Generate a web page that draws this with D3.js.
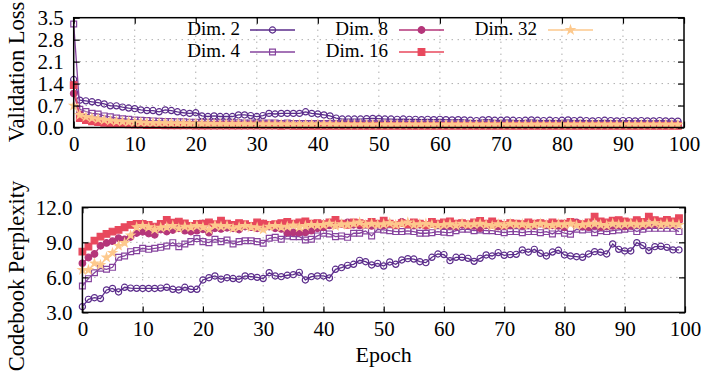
<!DOCTYPE html>
<html>
<head>
<meta charset="utf-8">
<script src="https://cdn.jsdelivr.net/npm/d3@7"></script>
<style>
body { margin: 0; background: #fff; }
svg { display: block; font-family: "Liberation Serif", serif; }
.grid line { stroke: #888; stroke-width: 1; stroke-dasharray: 1,5; }
.axis path { display: none; }
.axis line { stroke: #000; stroke-width: 1.2; }
.axis text { font-family: "Liberation Serif", serif; font-size: 21px; fill: #000; }
</style>
</head>
<body>
<svg class="chart"></svg>
<script>
var W = 701, H = 371;

var seriesNames = ["Dim. 2", "Dim. 4", "Dim. 8", "Dim. 16", "Dim. 32"];
var colors = ["#5b2c8b", "#86449e", "#b5367a", "#e8485d", "#fdc98d"];
var epochs = d3.range(100);

var lossTicks = [0.0, 0.7, 1.4, 2.1, 2.8, 3.5];
var perpTicks = [3.0, 6.0, 9.0, 12.0];
var epochTicks = [0, 10, 20, 30, 40, 50, 60, 70, 80, 90, 100];

// validation loss
var loss2 = [1.53,0.87,0.85,0.82,0.79,0.75,0.69,0.69,0.65,0.62,0.60,0.56,0.54,0.54,0.50,0.56,0.54,0.50,0.47,0.45,
	0.47,0.37,0.35,0.37,0.35,0.35,0.35,0.40,0.40,0.38,0.35,0.38,0.45,0.43,0.45,0.45,0.45,0.45,0.50,0.45,
	0.43,0.40,0.37,0.30,0.27,0.27,0.27,0.27,0.28,0.29,0.28,0.27,0.27,0.26,0.27,0.26,0.26,0.25,0.26,0.25,
	0.26,0.25,0.24,0.25,0.24,0.23,0.22,0.24,0.25,0.23,0.23,0.24,0.23,0.22,0.23,0.24,0.23,0.22,0.23,0.22,
	0.23,0.24,0.22,0.23,0.22,0.21,0.22,0.23,0.22,0.21,0.22,0.22,0.21,0.22,0.21,0.21,0.22,0.21,0.20,0.20];
var loss4 = [3.30,0.58,0.51,0.45,0.43,0.37,0.34,0.30,0.28,0.26,0.24,0.23,0.22,0.21,0.20,0.19,0.19,0.18,0.18,0.17,
	0.17,0.16,0.16,0.16,0.15,0.15,0.15,0.15,0.14,0.14,0.14,0.14,0.14,0.14,0.13,0.14,0.13,0.13,0.13,0.13,
	0.13,0.13,0.13,0.12,0.13,0.12,0.12,0.12,0.12,0.12,0.12,0.12,0.11,0.12,0.12,0.11,0.12,0.11,0.11,0.11,
	0.11,0.11,0.11,0.11,0.11,0.11,0.11,0.10,0.11,0.11,0.10,0.11,0.10,0.10,0.11,0.10,0.10,0.10,0.10,0.10,
	0.10,0.10,0.10,0.10,0.10,0.10,0.10,0.10,0.10,0.10,0.10,0.10,0.10,0.10,0.10,0.10,0.10,0.10,0.10,0.10];
var loss8 = [1.08,0.42,0.30,0.26,0.22,0.20,0.18,0.16,0.15,0.14,0.13,0.12,0.12,0.11,0.11,0.11,0.10,0.10,0.10,0.10,
	0.10,0.09,0.09,0.09,0.09,0.09,0.09,0.09,0.08,0.09,0.08,0.08,0.08,0.08,0.08,0.08,0.08,0.08,0.08,0.08,
	0.08,0.08,0.08,0.08,0.07,0.08,0.07,0.07,0.07,0.07,0.07,0.07,0.07,0.07,0.07,0.07,0.07,0.07,0.07,0.07,
	0.07,0.07,0.07,0.07,0.07,0.07,0.07,0.07,0.07,0.07,0.07,0.07,0.07,0.07,0.07,0.07,0.07,0.07,0.07,0.07,
	0.07,0.07,0.07,0.07,0.07,0.07,0.07,0.07,0.07,0.07,0.07,0.07,0.07,0.07,0.07,0.07,0.07,0.07,0.07,0.07];
var loss16 = [1.35,0.30,0.24,0.20,0.17,0.15,0.13,0.12,0.11,0.10,0.09,0.09,0.08,0.08,0.08,0.07,0.07,0.07,0.07,0.07,
	0.06,0.06,0.06,0.06,0.06,0.06,0.06,0.06,0.06,0.06,0.06,0.06,0.06,0.06,0.05,0.06,0.05,0.05,0.05,0.05,
	0.05,0.05,0.05,0.05,0.05,0.05,0.05,0.05,0.05,0.05,0.05,0.05,0.05,0.05,0.05,0.05,0.05,0.05,0.05,0.05,
	0.05,0.05,0.05,0.05,0.05,0.05,0.05,0.05,0.05,0.05,0.05,0.05,0.05,0.05,0.05,0.05,0.05,0.05,0.05,0.05,
	0.05,0.05,0.05,0.05,0.05,0.05,0.05,0.05,0.05,0.05,0.05,0.05,0.05,0.05,0.05,0.05,0.05,0.05,0.05,0.05];
var loss32 = [0.70,0.40,0.34,0.30,0.27,0.24,0.22,0.20,0.19,0.18,0.17,0.16,0.15,0.15,0.14,0.14,0.13,0.13,0.13,0.12,
	0.12,0.12,0.12,0.11,0.11,0.11,0.11,0.11,0.11,0.10,0.10,0.10,0.10,0.10,0.10,0.10,0.10,0.10,0.10,0.10,
	0.10,0.10,0.10,0.09,0.10,0.09,0.09,0.09,0.09,0.09,0.09,0.09,0.09,0.09,0.09,0.09,0.09,0.09,0.09,0.09,
	0.09,0.09,0.09,0.09,0.09,0.09,0.09,0.09,0.09,0.09,0.09,0.09,0.09,0.09,0.09,0.09,0.09,0.09,0.09,0.09,
	0.09,0.09,0.09,0.09,0.09,0.09,0.09,0.09,0.09,0.09,0.09,0.09,0.09,0.09,0.09,0.09,0.09,0.09,0.09,0.09];

// codebook perplexity
var perp2 = [3.49,4.12,4.26,4.18,4.92,5.05,4.75,5.15,5.08,5.06,5.05,5.05,5.05,5.08,5.15,4.98,4.92,5.15,4.98,4.98,
	5.78,5.97,6.12,5.84,5.97,5.90,5.84,6.12,6.06,6.00,5.90,6.40,6.12,6.06,6.18,6.23,6.43,5.78,6.06,6.12,
	6.12,5.95,6.69,6.83,7.03,7.12,7.46,7.34,7.06,7.20,6.97,7.32,7.12,7.49,7.60,7.57,7.34,7.26,7.72,8.00,
	7.95,7.43,7.72,7.72,7.63,7.37,7.63,7.92,7.83,8.12,7.89,7.95,7.97,8.35,8.15,8.40,8.06,7.83,8.17,8.32,
	7.92,7.83,7.77,7.72,8.00,8.20,8.15,8.00,8.86,8.40,8.26,8.26,8.97,8.72,8.29,8.63,8.66,8.57,8.35,8.35];
var perp4 = [5.26,5.89,6.40,6.78,6.69,6.86,7.72,7.83,8.20,8.29,8.49,8.40,8.49,8.57,8.69,8.97,8.63,8.86,9.06,9.32,
	9.06,8.97,9.26,9.06,9.20,8.86,9.06,9.14,9.14,9.06,8.92,9.35,9.43,9.26,9.55,9.49,9.49,9.20,9.26,9.55,
	9.78,9.72,9.49,9.55,9.43,9.78,9.78,9.98,9.55,10.12,10.06,10.00,9.92,9.92,9.98,9.92,9.78,9.78,9.83,9.92,
	9.86,9.83,10.00,10.12,10.12,10.00,10.06,10.00,10.00,9.92,9.83,9.92,9.92,9.83,9.92,9.92,9.83,9.92,9.72,10.00,
	9.78,9.69,10.12,10.06,10.12,9.83,10.00,9.92,10.00,10.06,10.12,10.20,9.92,10.12,10.20,10.20,10.20,10.20,10.20,9.92];
var perp8 = [7.20,7.70,8.00,8.70,8.95,9.10,9.35,9.25,9.45,9.80,9.90,9.75,9.65,10.10,9.92,10.05,10.20,10.00,9.92,10.00,
	10.12,9.83,10.20,10.15,10.25,10.20,10.10,10.35,10.30,10.20,10.30,10.35,10.20,10.15,9.83,9.85,9.83,9.85,10.00,10.20,
	10.30,10.45,10.50,10.60,10.70,10.50,10.45,10.55,10.40,10.50,10.45,10.60,10.50,10.75,10.55,10.45,10.50,10.40,10.55,10.50,
	10.45,10.40,10.35,10.50,10.45,10.40,10.20,10.45,10.50,10.35,10.40,10.45,10.50,10.40,10.45,10.40,10.60,10.50,10.45,10.40,
	10.30,10.75,10.70,10.35,10.30,10.40,10.30,10.35,10.40,10.45,10.35,10.40,10.50,10.45,10.50,10.55,10.50,10.60,10.50,10.85];
var perp16 = [8.20,8.63,9.14,9.49,9.72,9.92,10.06,10.29,10.49,10.58,10.58,10.49,10.35,10.58,10.92,10.69,10.78,10.63,10.40,10.58,
	10.60,10.70,10.55,10.86,10.60,10.50,10.65,10.55,10.40,10.70,10.60,10.50,10.55,10.65,10.75,10.60,10.70,10.80,10.60,10.65,
	10.55,10.70,10.92,10.60,10.50,10.70,10.65,10.55,10.75,10.60,10.85,10.60,10.50,10.65,10.55,10.70,10.60,10.50,10.75,10.60,
	10.70,10.80,10.60,10.65,10.55,10.70,10.83,10.60,10.80,10.60,10.50,10.65,10.60,10.55,10.70,10.60,10.65,10.55,10.70,10.60,
	10.60,10.75,10.60,10.55,10.70,11.20,10.80,10.70,10.85,10.90,10.80,10.70,10.90,10.75,11.20,10.90,10.80,10.92,10.80,11.06];
var perp32 = [6.63,6.63,7.20,7.06,7.70,8.10,8.70,8.95,9.60,10.30,10.40,10.30,10.10,10.25,10.30,10.40,10.20,10.35,10.30,10.40,
	10.30,10.10,10.45,10.35,10.40,10.20,10.30,10.40,10.30,10.25,10.10,10.35,10.40,10.30,10.35,10.45,10.30,10.40,10.50,10.45,
	10.50,10.60,10.40,10.55,10.50,10.60,10.70,10.50,10.60,10.50,10.55,10.65,10.50,10.60,10.70,10.50,10.55,10.60,10.50,10.45,
	10.50,10.55,10.45,10.60,10.50,10.55,10.60,10.50,10.40,10.55,10.45,10.60,10.50,10.55,10.45,10.50,10.60,10.50,10.45,10.55,
	10.50,10.60,10.45,10.50,10.55,10.60,10.50,10.45,10.60,10.50,10.55,10.60,10.50,10.55,10.60,10.65,10.50,10.60,10.55,10.50];

var lossData = [loss2, loss4, loss8, loss16, loss32];
var perpData = [perp2, perp4, perp8, perp16, perp32];

// marker shapes: open circle, open square, filled circle, filled square, star
var markers = [
	{type: d3.symbolCircle, size: 30, fill: false},
	{type: d3.symbolSquare, size: 34, fill: false},
	{type: d3.symbolCircle, size: 34, fill: true},
	{type: d3.symbolSquare, size: 44, fill: true},
	{type: d3.symbolStar, size: 20, fill: true}
];

var svg = d3.select(".chart")
	.attr("width", W)
	.attr("height", H);

function drawPanel(box, domainY, yTicks, fmt, data, label, labelY) {
	var x = d3.scaleLinear().domain([0, 100]).range([box.left, box.right]);
	var y = d3.scaleLinear().domain(domainY).range([box.bottom, box.top]);
	var g = svg.append("g");

	// dotted grid
	var grid = g.append("g").attr("class", "grid");
	grid.selectAll(".gx")
		.data(epochTicks.slice(1, -1))
		.enter().append("line")
		.attr("x1", d => x(d)).attr("x2", d => x(d))
		.attr("y1", box.top).attr("y2", box.bottom);
	grid.selectAll(".gy")
		.data(yTicks.slice(1, -1))
		.enter().append("line")
		.attr("x1", box.left).attr("x2", box.right)
		.attr("y1", d => y(d)).attr("y2", d => y(d));

	var line = d3.line()
		.x((d, i) => x(epochs[i]))
		.y(d => y(d));

	data.forEach(function(vals, k) {
		var m = markers[k];
		var s = g.append("g");
		s.append("path")
			.datum(vals)
			.attr("fill", "none")
			.attr("stroke", colors[k])
			.attr("stroke-width", 1.3)
			.attr("d", line);
		s.selectAll("path.pt")
			.data(vals)
			.enter().append("path")
			.attr("class", "pt")
			.attr("transform", (d, i) => "translate(" + x(epochs[i]) + "," + y(d) + ")")
			.attr("d", d3.symbol().type(m.type).size(m.size))
			.attr("fill", m.fill ? colors[k] : "none")
			.attr("stroke", colors[k])
			.attr("stroke-width", 1.2);
	});

	// axes with inward ticks
	g.append("g")
		.attr("class", "axis")
		.attr("transform", "translate(0," + box.bottom + ")")
		.call(d3.axisBottom(x).tickValues(epochTicks).tickSize(-6).tickPadding(9).tickFormat(d3.format("d")));
	g.append("g")
		.attr("class", "axis")
		.attr("transform", "translate(0," + box.top + ")")
		.call(d3.axisTop(x).tickValues(epochTicks).tickSize(-6).tickFormat(""));
	g.append("g")
		.attr("class", "axis")
		.attr("transform", "translate(" + box.left + ",0)")
		.call(d3.axisLeft(y).tickValues(yTicks).tickSize(-6).tickPadding(10).tickFormat(d3.format(fmt)));
	g.append("g")
		.attr("class", "axis")
		.attr("transform", "translate(" + box.right + ",0)")
		.call(d3.axisRight(y).tickValues(yTicks).tickSize(-6).tickFormat(""));

	g.append("rect")
		.attr("x", box.left).attr("y", box.top)
		.attr("width", box.right - box.left).attr("height", box.bottom - box.top)
		.attr("fill", "none")
		.attr("stroke", "#000")
		.attr("stroke-width", 1.5);

	g.append("text")
		.attr("transform", "translate(24," + labelY + ") rotate(-90)")
		.attr("text-anchor", "middle")
		.attr("font-size", 22.5)
		.text(label);

	return {x: x, y: y};
}

var top = drawPanel({left: 73.7, right: 684, top: 17.7, bottom: 127.5}, [0, 3.5], lossTicks, ".1f", lossData, "Validation Loss", 72);
var bot = drawPanel({left: 82.4, right: 685, top: 207.3, bottom: 312.4}, [3, 12], perpTicks, ".1f", perpData, "Codebook Perplexity", 276);

svg.append("text")
	.attr("x", (82.4 + 685) / 2)
	.attr("y", 362)
	.attr("text-anchor", "middle")
	.attr("font-size", 22)
	.text("Epoch");

// legend
var legendPos = [
	{tx: 240, ty: 35, lx: 250},
	{tx: 240, ty: 57, lx: 250},
	{tx: 388, ty: 35, lx: 399},
	{tx: 388, ty: 57, lx: 399},
	{tx: 537, ty: 35, lx: 548}
];
var legend = svg.append("g");
seriesNames.forEach(function(name, k) {
	var p = legendPos[k];
	var m = markers[k];
	var item = legend.append("g");
	item.append("text")
		.attr("x", p.tx).attr("y", p.ty)
		.attr("text-anchor", "end")
		.attr("font-size", 19)
		.text(name);
	item.append("line")
		.attr("x1", p.lx).attr("x2", p.lx + 45)
		.attr("y1", p.ty - 5).attr("y2", p.ty - 5)
		.attr("stroke", colors[k]).attr("stroke-width", 1.3);
	item.append("path")
		.attr("transform", "translate(" + (p.lx + 22.5) + "," + (p.ty - 5) + ")")
		.attr("d", d3.symbol().type(m.type).size(m.size))
		.attr("fill", m.fill ? colors[k] : "none")
		.attr("stroke", colors[k])
		.attr("stroke-width", 1.2);
});
</script>
</body>
</html>
